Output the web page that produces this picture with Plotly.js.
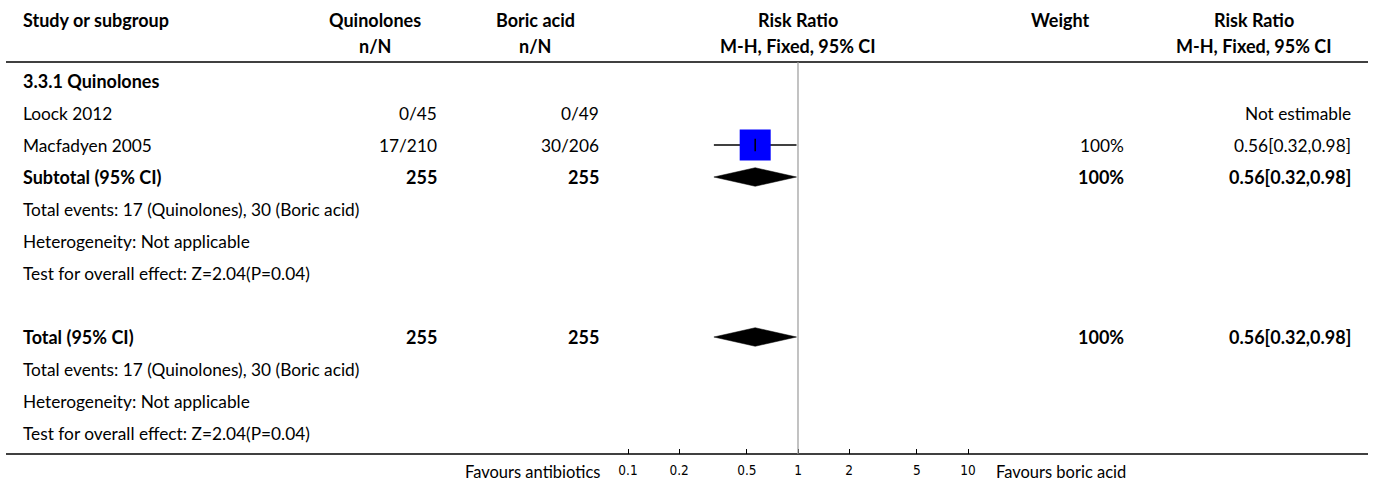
<!DOCTYPE html>
<html>
<head>
<meta charset="utf-8">
<script src="https://cdn.plot.ly/plotly-3.0.1.min.js"></script>
<style>html,body{margin:0;padding:0;background:#fff;}#chart{width:1375px;height:485px;}</style>
</head>
<body>
<div id="chart"></div>
<script>
// ---- Data ----
const headerTop = ["Study or subgroup", "Quinolones", "Boric acid", "Risk Ratio", "Weight", "Risk Ratio"];
const headerSub = ["", "n/N", "n/N", "M-H, Fixed, 95% CI", "", "M-H, Fixed, 95% CI"];

const rowLabels = [
  "3.3.1 Quinolones",
  "Loock 2012",
  "Macfadyen 2005",
  "Subtotal (95% CI)",
  "Total events: 17 (Quinolones), 30 (Boric acid)",
  "Heterogeneity: Not applicable",
  "Test for overall effect: Z=2.04(P=0.04)",
  "",
  "Total (95% CI)",
  "Total events: 17 (Quinolones), 30 (Boric acid)",
  "Heterogeneity: Not applicable",
  "Test for overall effect: Z=2.04(P=0.04)"
];
const rowBold = [true, false, false, true, false, false, false, false, true, false, false, false];
const quinolonesCol = ["", "0/45", "17/210", "255", "", "", "", "", "255", "", "", ""];
const boricCol = ["", "0/49", "30/206", "255", "", "", "", "", "255", "", "", ""];
const weightCol = ["", "", "100%", "100%", "", "", "", "", "100%", "", "", ""];
const rrCol = ["", "Not estimable", "0.56[0.32,0.98]", "0.56[0.32,0.98]", "", "", "", "", "0.56[0.32,0.98]", "", "", ""];

// Individual study estimates (rows with an estimable effect)
const studyRows = [2];
const studyRR = [0.56];
const studyLo = [0.32];
const studyHi = [0.98];
const studyWeight = [100];

// Pooled estimates (diamonds)
const pooledRows = [3, 8];
const pooledRR = [0.56, 0.56];
const pooledLo = [0.32, 0.32];
const pooledHi = [0.98, 0.98];

const tickVals = [0.1, 0.2, 0.5, 1, 2, 5, 10];
const tickText = ["0.1", "0.2", "0.5", "1", "2", "5", "10"];
const favoursLeft = "Favours antibiotics";
const favoursRight = "Favours boric acid";

// ---- Layout constants ----
const W = 1375, H = 485;
const FONT = "Lato, 'Open Sans', sans-serif";
const FS = 17.3;
const FSB = 18;
const px = v => v / W;

const traces = [];

// CI lines
studyRows.forEach((r, i) => {
  traces.push({
    type: "scatter", mode: "lines",
    x: [studyLo[i], studyHi[i]], y: [r, r],
    line: {color: "#000", width: 1.3},
    hoverinfo: "skip"
  });
});
// Boxes
traces.push({
  type: "scatter", mode: "markers", opacity: 1,
  x: studyRR, y: studyRows,
  marker: {symbol: "square", color: "#0000ff", opacity: 1,
           size: studyWeight.map(w => 31 * Math.sqrt(w / 100)),
           line: {width: 0}},
  hoverinfo: "skip"
});
// Centre tick in box
traces.push({
  type: "scatter", mode: "markers",
  x: studyRR, y: studyRows,
  marker: {symbol: "line-ns", size: 9, opacity: 1, line: {color: "#000", width: 1.5}},
  hoverinfo: "skip"
});
// Diamonds
const dh = 0.29;
pooledRows.forEach((r, i) => {
  traces.push({
    type: "scatter", mode: "lines",
    x: [pooledLo[i], pooledRR[i], pooledHi[i], pooledRR[i], pooledLo[i]],
    y: [r, r - dh, r, r + dh, r],
    fill: "toself", fillcolor: "#000",
    line: {color: "#000", width: 0.5},
    hoverinfo: "skip"
  });
});

// ---- Annotations ----
const ann = [];
function txt(x, y, text, anchor, bold) {
  ann.push({
    xref: "paper", yref: "y", x: px(x), y: y, text: text,
    xanchor: anchor, yanchor: "middle", showarrow: false,
    font: {family: FONT, size: bold ? FSB : FS, color: "#000", weight: bold ? 700 : 400}
  });
}
const hdrY1 = -1.906, hdrY2 = -1.094;
const hdrX = [21, 375, 535, 797.5, 1060, 1254];
headerTop.forEach((t, i) => txt(hdrX[i], hdrY1, t, i === 0 ? "left" : "center", true));
headerSub.forEach((t, i) => { if (t) txt(hdrX[i], hdrY2, t, "center", true); });

rowLabels.forEach((t, i) => {
  if (t) txt(21, i, t, "left", rowBold[i]);
  if (quinolonesCol[i]) txt(439, i, quinolonesCol[i], "right", rowBold[i]);
  if (boricCol[i]) txt(601, i, boricCol[i], "right", rowBold[i]);
  if (weightCol[i]) txt(1126, i, weightCol[i], "right", rowBold[i]);
  if (rrCol[i]) txt(1353, i, rrCol[i], "right", rowBold[i]);
});

// Favours labels
const favY = -18 / 454;
ann.push({xref: "paper", yref: "paper", x: px(602), y: favY, text: favoursLeft,
  xanchor: "right", yanchor: "middle", showarrow: false, font: {family: FONT, size: 16.5, color: "#000"}});
ann.push({xref: "paper", yref: "paper", x: px(994), y: favY, text: favoursRight,
  xanchor: "left", yanchor: "middle", showarrow: false, font: {family: FONT, size: 16.5, color: "#000"}});

// ---- Shapes ----
const shapes = [
  {type: "line", xref: "paper", yref: "y", x0: px(6), x1: px(1368), y0: -0.594, y1: -0.594,
   line: {color: "#000", width: 1.6}},
  {type: "line", xref: "paper", yref: "paper", x0: px(6), x1: px(1368), y0: 0, y1: 0,
   line: {color: "#000", width: 1.6}},
  {type: "line", xref: "x", yref: "y", x0: 1, x1: 1, y0: -0.594, y1: 11.656,
   line: {color: "#9a9a9a", width: 1.2}}
];

const yTop = -81 / 32;
const yBot = yTop + 454 / 32;

const layout = {
  width: W, height: H,
  margin: {l: 0, r: 0, t: 0, b: 31, pad: 0},
  paper_bgcolor: "#fff", plot_bgcolor: "#fff",
  showlegend: false, hovermode: false,
  font: {family: "DejaVu Sans", size: 13, color: "#000"},
  xaxis: {
    type: "log",
    range: [-798 / 170, (W - 798) / 170],
    tickmode: "array",
    tickvals: tickVals, ticktext: tickText,
    ticks: "inside", ticklen: 5, tickwidth: 1, tickcolor: "#000",
    showgrid: false, zeroline: false, showline: false,
    tickfont: {family: "'DejaVu Sans Condensed', 'DejaVu Sans', sans-serif", size: 13.5, color: "#000"},
    ticklabelstandoff: 6,
    fixedrange: true
  },
  yaxis: {
    range: [yBot, yTop], visible: false, showgrid: false, zeroline: false, fixedrange: true
  },
  annotations: ann,
  shapes: shapes
};

Plotly.newPlot("chart", traces, layout, {staticPlot: true, displayModeBar: false});
</script>
</body>
</html>
